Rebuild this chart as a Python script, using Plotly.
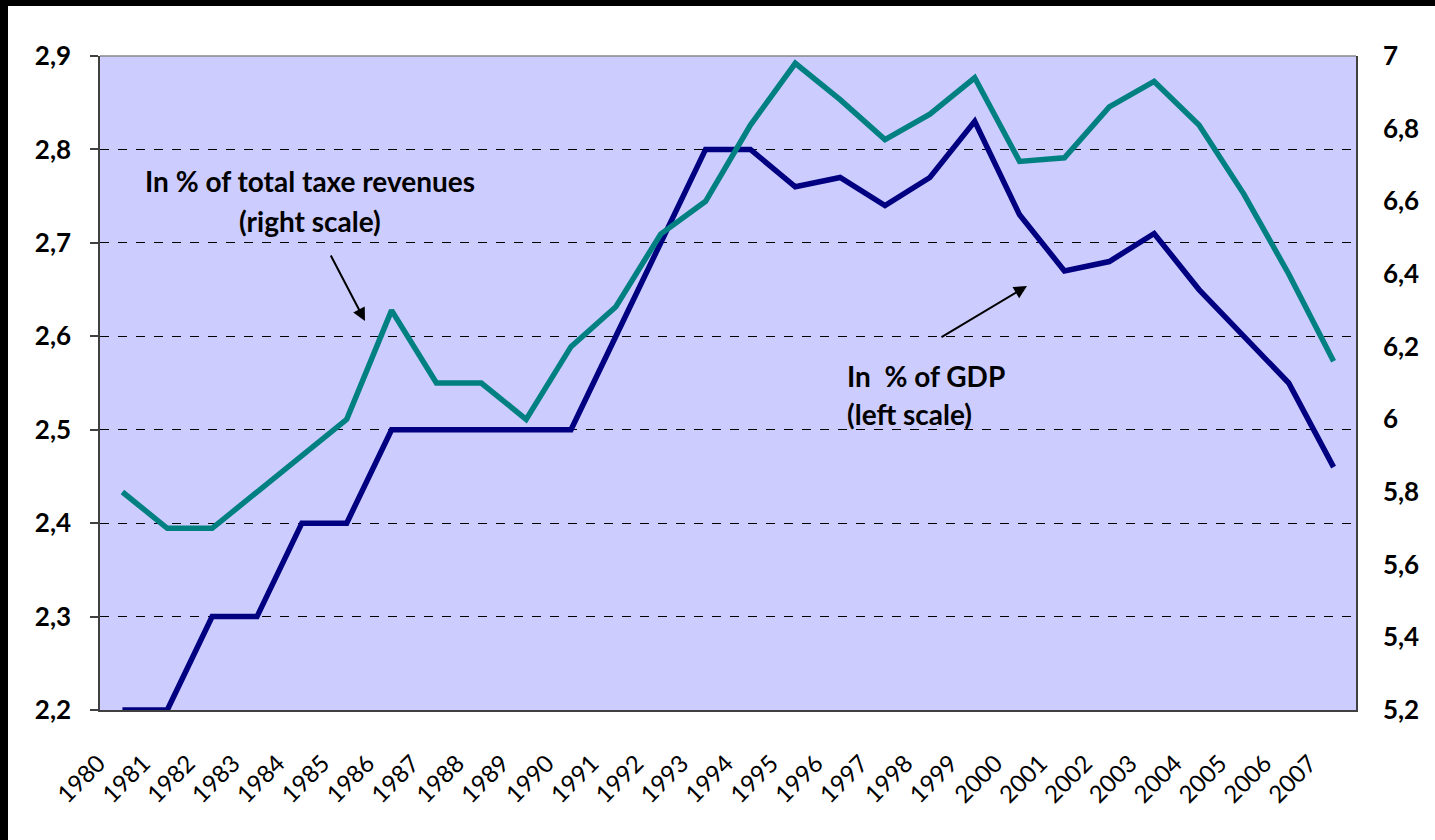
import plotly.graph_objects as go

years = [str(y) for y in range(1980, 2008)]
gdp_share = [2.20, 2.20, 2.30, 2.30, 2.40, 2.40, 2.50, 2.50, 2.50, 2.50,
             2.50, 2.60, 2.70, 2.80, 2.80, 2.76, 2.77, 2.74, 2.77, 2.83,
             2.73, 2.67, 2.68, 2.71, 2.65, 2.60, 2.55, 2.46]
tax_share = [5.80, 5.70, 5.70, 5.80, 5.90, 6.00, 6.30, 6.10, 6.10, 6.00,
             6.20, 6.31, 6.51, 6.60, 6.81, 6.98, 6.88, 6.77, 6.84, 6.94,
             6.71, 6.72, 6.86, 6.93, 6.81, 6.62, 6.40, 6.16]
left_ticks = [2.2, 2.3, 2.4, 2.5, 2.6, 2.7, 2.8, 2.9]
left_labels = ["2,2", "2,3", "2,4", "2,5", "2,6", "2,7", "2,8", "2,9"]
right_ticks = [5.2, 5.4, 5.6, 5.8, 6.0, 6.2, 6.4, 6.6, 6.8, 7.0]
right_labels = ["5,2", "5,4", "5,6", "5,8", "6", "6,2", "6,4", "6,6", "6,8", "7"]

W, H = 1435, 840
# plot area in pixels
L, R, T, B = 100, 1356, 56, 710


def px(X):  # pixel x -> paper
    return (X - L) / (R - L)


def py(Y):  # pixel y -> paper
    return (B - Y) / (B - T)


fig = go.Figure()
fig.add_trace(go.Scatter(x=years, y=tax_share, mode="lines", yaxis="y2",
                         line=dict(color="#008080", width=5.5),
                         name="In % of total taxe revenues"))
fig.add_trace(go.Scatter(x=years, y=gdp_share, mode="lines", yaxis="y",
                         line=dict(color="#000080", width=5.5),
                         name="In % of GDP"))

font_family = "Lato"

fig.update_layout(
    width=W, height=H,
    margin=dict(l=L, r=W - R, t=T, b=H - B, pad=0),
    paper_bgcolor="white",
    plot_bgcolor="#CCCCFF",
    showlegend=False,
    font=dict(family=font_family, color="black"),
    xaxis=dict(
        type="category", range=[-0.5, len(years) - 0.5],
        showgrid=False, zeroline=False,
        showline=True, linecolor="#404040", linewidth=1.5, mirror=False,
        ticks="", tickangle=-45,
        tickfont=dict(family=font_family, size=24, color="black"),
        ticklabelstandoff=28, ticklabelshift=-24,
    ),
    yaxis=dict(
        range=[2.2, 2.9], tickvals=left_ticks, ticktext=left_labels,
        showgrid=True, gridcolor="#000000", griddash="dash", gridwidth=1,
        zeroline=False, showline=True, linecolor="#404040", linewidth=1.5,
        ticks="outside", ticklen=8, tickcolor="#404040", tickwidth=1.5,
        tickfont=dict(family=font_family, size=26, color="black", weight="bold"),
        ticklabelstandoff=14,
    ),
    yaxis2=dict(
        range=[5.2, 7.0], tickvals=right_ticks, ticktext=right_labels,
        overlaying="y", side="right",
        showgrid=False, zeroline=False,
        showline=True, linecolor="#404040", linewidth=1.5,
        ticks="",
        tickfont=dict(family=font_family, size=26, color="black", weight="bold"),
        ticklabelstandoff=20,
    ),
)

# top gray border of the plot area
fig.add_shape(type="line", xref="paper", yref="paper", x0=0, x1=1, y0=1, y1=1,
              line=dict(color="#888888", width=1.5))

# black frame bands along the left and top edges of the picture
fig.add_shape(type="rect", xref="paper", yref="paper",
              x0=px(-20), x1=px(8), y0=py(H + 20), y1=py(-20),
              fillcolor="black", line=dict(width=0), layer="above")
fig.add_shape(type="rect", xref="paper", yref="paper",
              x0=px(-20), x1=px(W + 20), y0=py(6), y1=py(-20),
              fillcolor="black", line=dict(width=0), layer="above")

ann_font = dict(family=font_family, size=28, color="black", weight="bold")
fig.add_annotation(xref="paper", yref="paper", x=px(310), y=py(181),
                   text="In % of total taxe revenues", showarrow=False,
                   xanchor="center", yanchor="middle", font=ann_font)
fig.add_annotation(xref="paper", yref="paper", x=px(310), y=py(221),
                   text="(right scale)", showarrow=False,
                   xanchor="center", yanchor="middle", font=ann_font)
fig.add_annotation(xref="paper", yref="paper", x=px(845), y=py(376),
                   text="In\u00a0 % of GDP", showarrow=False,
                   xanchor="left", yanchor="middle", font=ann_font)
fig.add_annotation(xref="paper", yref="paper", x=px(845), y=py(414),
                   text="(left scale)", showarrow=False,
                   xanchor="left", yanchor="middle", font=ann_font)

# arrows
fig.add_annotation(xref="paper", yref="paper", x=px(365), y=py(321),
                   ax=330 - 365, ay=254 - 321, text="", showarrow=True,
                   arrowhead=2, arrowsize=1.3, arrowwidth=2, arrowcolor="black")
fig.add_annotation(xref="paper", yref="paper", x=px(1027), y=py(286),
                   ax=940 - 1027, ay=338 - 286, text="", showarrow=True,
                   arrowhead=2, arrowsize=1.3, arrowwidth=2, arrowcolor="black")

fig.write_html("out.html",
               config={"displayModeBar": False},
               post_script="document.body.style.margin='0px';")
